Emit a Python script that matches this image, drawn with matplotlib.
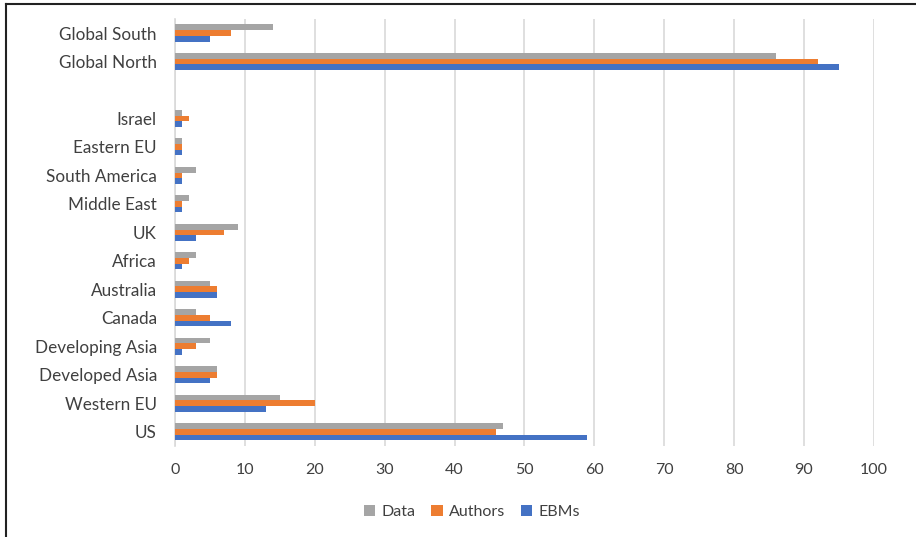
import numpy as np
import matplotlib
matplotlib.use('Agg')
from matplotlib import pyplot as plt
from matplotlib.lines import Line2D

# Regions, bottom to top; "" is the empty spacer row
regions = ["US", "Western EU", "Developed Asia", "Developing Asia", "Canada",
           "Australia", "Africa", "UK", "Middle East", "South America",
           "Eastern EU", "Israel", "", "Global North", "Global South"]
data_vals = [47, 15, 6, 5, 3, 5, 3, 9, 2, 3, 1, 1, np.nan, 86, 14]
authors_vals = [46, 20, 6, 3, 5, 6, 2, 7, 1, 1, 1, 2, np.nan, 92, 8]
ebms_vals = [59, 13, 5, 1, 8, 6, 1, 3, 1, 1, 1, 1, np.nan, 95, 5]

plt.rcParams['font.family'] = ['Lato', 'DejaVu Sans']

fig = plt.figure(figsize=(9.16, 5.37), dpi=100)
ax = fig.add_axes([0.191, 0.1695, 0.763, 0.7955])

y = np.arange(len(regions))
h = 0.2
ax.barh(y + h, data_vals, height=h, color='#A5A5A5', label='Data', zorder=3)
ax.barh(y, authors_vals, height=h, color='#ED7D31', label='Authors', zorder=3)
ax.barh(y - h, ebms_vals, height=h, color='#4472C4', label='EBMs', zorder=3)

ax.set_xlim(0, 100)
ax.set_ylim(-0.5, len(regions) - 0.5)
ax.set_xticks(range(0, 101, 10))
ax.set_yticks(y)
ax.set_yticklabels(regions)
ax.tick_params(axis='both', length=0, labelsize=11.5, colors='#404040')
ax.tick_params(axis='y', labelsize=12.3, pad=13)
ax.tick_params(axis='x', pad=12)
ax.grid(axis='x', color='#D9D9D9', linewidth=1.2, zorder=0)
for s in ['top', 'right', 'bottom']:
    ax.spines[s].set_visible(False)
ax.spines['left'].set_color('#D9D9D9')
ax.spines['left'].set_linewidth(1.2)

ax.legend(loc='center', bbox_to_anchor=(0.425, -0.155), ncol=3, frameon=False,
          fontsize=11.5, handlelength=0.7, handleheight=0.7, columnspacing=1.0,
          handletextpad=0.4, labelcolor='#404040')

# outer frame lines (left and top)
fig.add_artist(Line2D([0.0065, 0.0065], [0, 0.992], transform=fig.transFigure,
                      color='#222222', linewidth=1.5))
fig.add_artist(Line2D([0.0065, 1], [0.992, 0.992], transform=fig.transFigure,
                      color='#222222', linewidth=1.5))

plt.savefig('out.png', dpi=100)
